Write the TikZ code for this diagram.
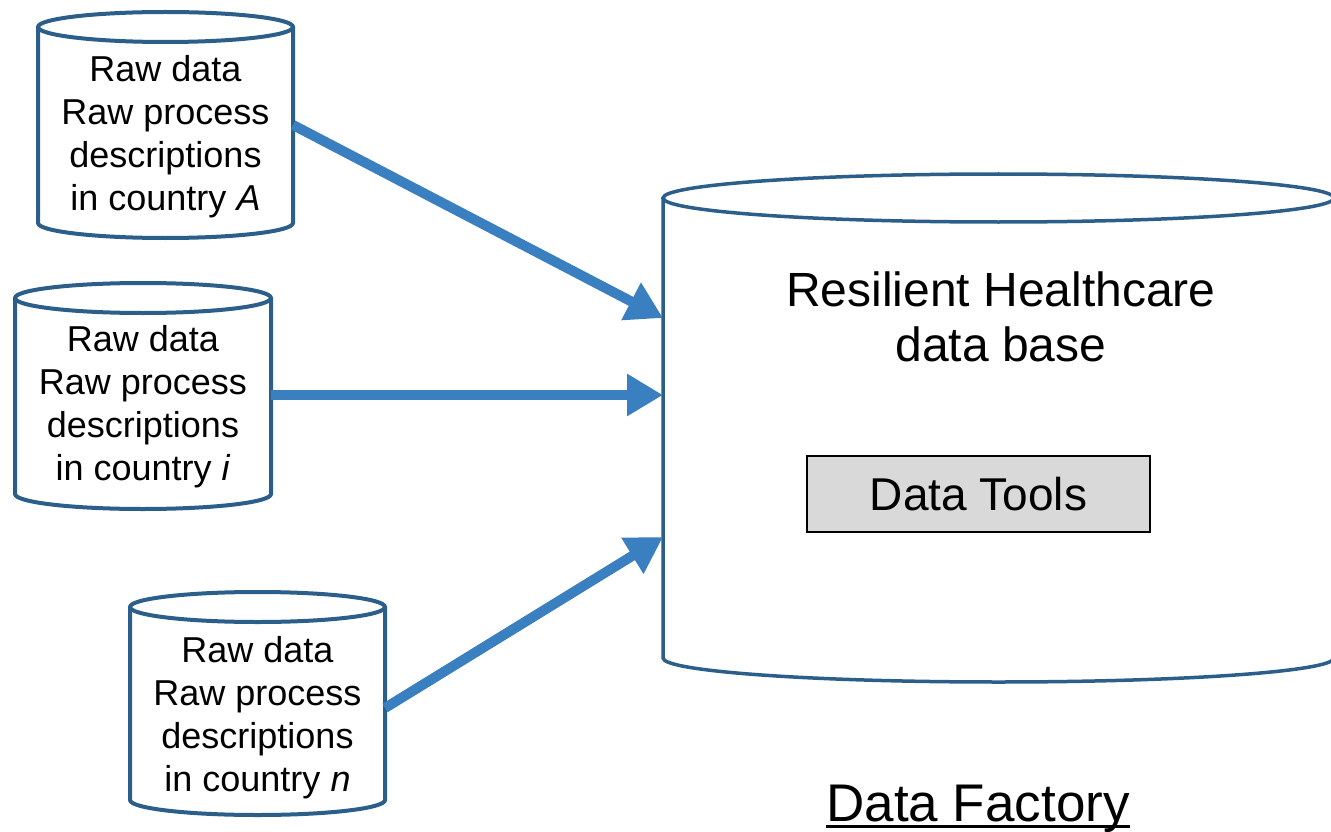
\documentclass[tikz,border=0pt]{standalone}
\usepackage{fontspec}
\setmainfont{Liberation Sans}
\usetikzlibrary{arrows.meta}

\definecolor{drumblue}{RGB}{44,94,138}
\definecolor{flowblue}{RGB}{58,127,191}
\definecolor{toolgray}{RGB}{217,217,217}

% drum-shaped data store: left x, right x, top y, bottom y, ellipse y-radius, line width
\newcommand{\drumshape}[6]{%
  \filldraw[drum, line width=#6] (#1,#3) -- (#1,#4)
    arc[start angle=180, end angle=0, x radius={(#2-#1)/2}, y radius=#5] -- (#2,#3);
  \draw[drum, line width=#6] ({(#1+#2)/2},#3) ellipse[x radius={(#2-#1)/2}, y radius=#5];
}

\tikzset{
  drum/.style={draw=drumblue, fill=white},
  srctext/.style={align=center, inner sep=0pt, font=\fontsize{36}{43}\selectfont},
  flow/.style={draw=flowblue, line width=10pt, -{Triangle[length=36pt, width=40pt]}},
}

\begin{document}
\begin{tikzpicture}[x=1pt, y=-1pt]
\useasboundingbox (0,0) rectangle (1331,832);

% source stores
\drumshape{38}{293}{27}{223}{15}{4pt}
\drumshape{15}{271}{298}{494}{15}{4pt}
\drumshape{130}{385}{607}{800}{15}{4pt}

% central data base
\drumshape{663}{1334}{198}{658}{24}{3.5pt}

\node[srctext] (srcA) at (165.5,137) {Raw data\\Raw process\\descriptions\\in country \textit{A}};
\node[srctext] (srcI) at (143,407) {Raw data\\Raw process\\descriptions\\in country \textit{i}};
\node[srctext] (srcN) at (257.5,718) {Raw data\\Raw process\\descriptions\\in country \textit{n}};

\node[align=center, inner sep=0pt, font=\fontsize{48}{55}\selectfont] (db) at (1001,317)
  {Resilient Healthcare\\data base};

\node[draw=black, fill=toolgray, line width=1.5pt, minimum width=343pt, minimum height=76pt,
      inner sep=0pt, font=\fontsize{46}{55}\selectfont] (tools) at (978.5,494) {Data Tools};

\node[inner sep=0pt, anchor=base, font=\fontsize{53}{60}\selectfont] (factory) at (978,821) {Data Factory};
\draw[line width=3pt] ([yshift=-5pt]factory.base west) -- ([yshift=-5pt]factory.base east);

% flows into the data base
\coordinate (outA) at (293,125);
\coordinate (inA) at (663,318);
\coordinate (outI) at (271,395);
\coordinate (inI) at (663,395);
\coordinate (outN) at (385,708);
\coordinate (inN) at (663,537);

\draw[flow] (outA) -- (inA);
\draw[flow] (outI) -- (inI);
\draw[flow] (outN) -- (inN);
\end{tikzpicture}
\end{document}
